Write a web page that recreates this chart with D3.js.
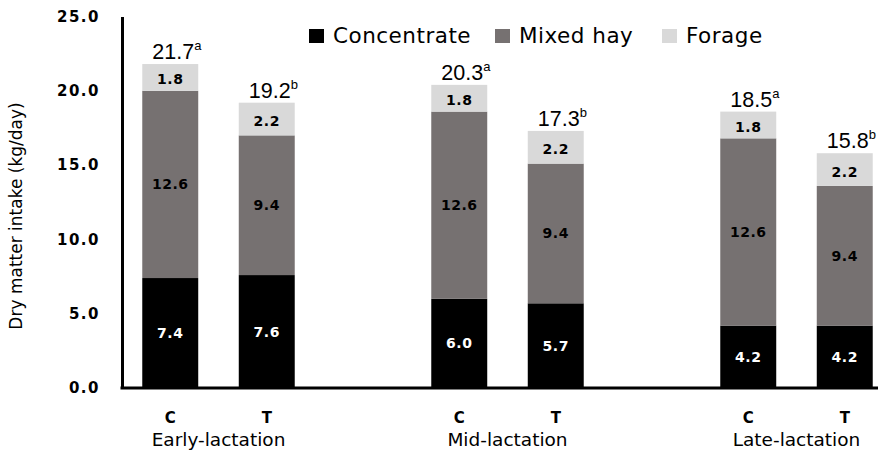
<!DOCTYPE html>
<html><head><meta charset="utf-8">
<script src="https://cdn.jsdelivr.net/npm/d3@7"></script>
<style>body{margin:0;background:#fff}</style>
</head><body>
<svg id="c" width="878" height="453"></svg>
<script>
const stages = ["Early-lactation", "Mid-lactation", "Late-lactation"];
const treatments = ["C", "T"];
const seriesNames = ["Concentrate", "Mixed hay", "Forage"];
const concentrate = [7.4, 7.6, 6.0, 5.7, 4.2, 4.2];
const mixedHay = [12.6, 9.4, 12.6, 9.4, 12.6, 9.4];
const forage = [1.8, 2.2, 1.8, 2.2, 1.8, 2.2];
const totals = ["21.7", "19.2", "20.3", "17.3", "18.5", "15.8"];
const letters = ["a", "b", "a", "b", "a", "b"];
const yTicks = [0, 5, 10, 15, 20, 25];
const colors = ["#000000", "#767171", "#D9D9D9"];
const labelColors = ["#ffffff", "#000000", "#000000"];

(function () {
const rows = [];
stages.forEach((s, i) => treatments.forEach((t, j) => {
  const k = i * 2 + j;
  rows.push({stage: s, trt: t, "Concentrate": concentrate[k], "Mixed hay": mixedHay[k], "Forage": forage[k], total: totals[k], letter: letters[k]});
}));

const svg = d3.select("#c");
const left = 122, base = 388, topY = 16.5;
const y = d3.scaleLinear().domain([0, 25]).range([base, topY]);
const x0 = d3.scaleBand().domain(stages).range([left, left + 3 * 289]);
const x1 = d3.scaleBand().domain(treatments).range([0, 193]).paddingInner(0.42).paddingOuter(0.21);
const cx = d => x0(d.stage) + x1(d.trt);

const stack = d3.stack().keys(seriesNames)(rows);

stack.forEach((layer, li) => {
  const g = svg.append("g");
  g.selectAll("rect").data(layer).join("rect")
    .attr("x", d => cx(d.data))
    .attr("width", x1.bandwidth())
    .attr("y", d => y(d[1]))
    .attr("height", d => y(d[0]) - y(d[1]))
    .attr("fill", colors[li]);
  g.selectAll("text").data(layer).join("text")
    .attr("x", d => cx(d.data) + x1.bandwidth() / 2)
    .attr("y", d => (y(d[0]) + y(d[1])) / 2 + 5 + (li === 2 ? 2 : 0))
    .attr("text-anchor", "middle")
    .attr("font-family", "DejaVu Sans")
    .attr("font-weight", "bold")
    .attr("font-size", 14)
    .attr("letter-spacing", 0.5)
    .attr("fill", labelColors[li])
    .text(d => (d[1] - d[0]).toFixed(1));
});

// total labels
stack[2].forEach(d => {
  const t = svg.append("text")
    .attr("y", y(d[1]) - 5)
    .attr("font-family", "Liberation Sans, Arial")
    .attr("font-size", 21.5)
    .attr("fill", "#000");
  const n = t.append("tspan").text(d.data.total);
  const w = n.node().getComputedTextLength();
  t.attr("x", cx(d.data) + x1.bandwidth() / 2 + 3 - w / 2);
  t.append("tspan").attr("dy", -9).attr("font-size", 13).text(d.data.letter);
});

// y axis
const yAxis = svg.append("g").attr("transform", `translate(${left},0)`)
  .call(d3.axisLeft(y).tickValues(yTicks).tickSize(0).tickPadding(22).tickFormat(d3.format(".1f")));
yAxis.select(".domain").attr("stroke", "#000").attr("stroke-width", 3);
yAxis.selectAll("text").attr("font-family", "DejaVu Sans").attr("font-weight", "bold")
  .attr("font-size", 15).attr("letter-spacing", 1.5).attr("fill", "#000");

// x baseline
svg.append("line").attr("x1", left - 1.5).attr("x2", 878).attr("y1", y(0)).attr("y2", y(0))
  .attr("stroke", "#000").attr("stroke-width", 3);

// treatment labels
svg.selectAll(".trt").data(rows).join("text")
  .attr("x", d => cx(d) + x1.bandwidth() / 2)
  .attr("y", 423)
  .attr("text-anchor", "middle")
  .attr("font-family", "DejaVu Sans").attr("font-weight", "bold").attr("font-size", 15)
  .text(d => d.trt);

// stage labels
svg.selectAll(".stg").data(stages).join("text")
  .attr("x", d => x0(d) + x1("C") + (x1("T") - x1("C")) / 2 + x1.bandwidth() / 2)
  .attr("y", 446)
  .attr("text-anchor", "middle")
  .attr("font-family", "DejaVu Sans").attr("font-size", 18.5)
  .text(d => d);

// y title
svg.append("text")
  .attr("transform", "translate(22,216) rotate(-90)")
  .attr("text-anchor", "middle")
  .attr("font-family", "DejaVu Sans").attr("font-size", 17)
  .text("Dry matter intake  (kg/day)");

// legend
const legendX = [309, 495, 662];
const lg = svg.selectAll(".lg").data(seriesNames).join("g")
  .attr("transform", (d, i) => `translate(${legendX[i]},29)`);
lg.append("rect").attr("width", 15).attr("height", 14).attr("fill", (d, i) => colors[i]);
lg.append("text").attr("x", 24).attr("y", 14).attr("font-family", "DejaVu Sans")
  .attr("font-size", 21.5).attr("letter-spacing", 0.5).attr("fill", "#000").text(d => d);
})();
</script>
</body></html>
